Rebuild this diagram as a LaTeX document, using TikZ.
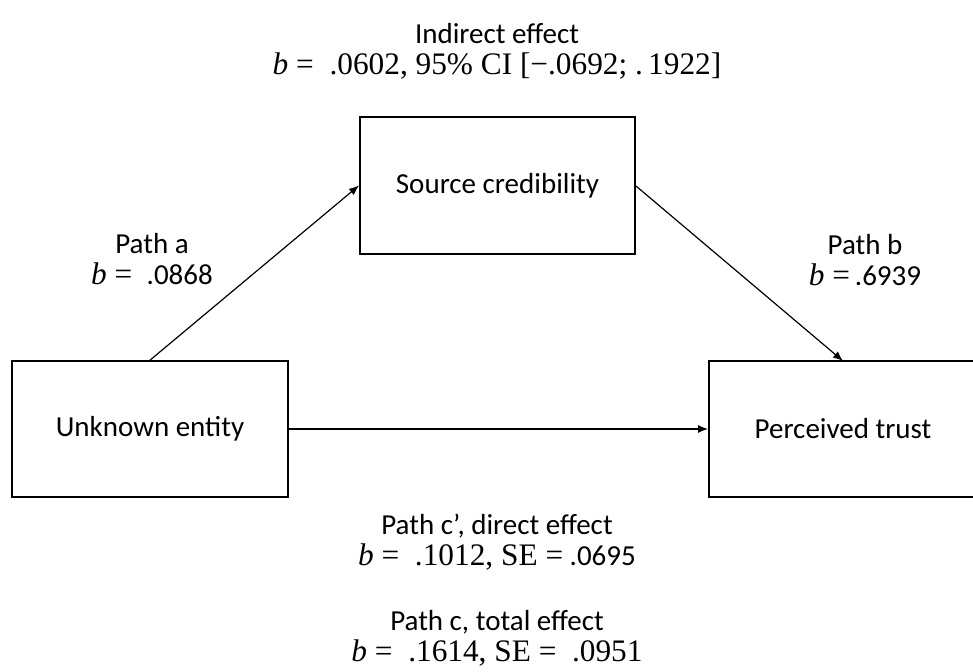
\documentclass[tikz,border=0pt]{standalone}
\usepackage{fontspec}
\setmainfont{Carlito}
\newfontfamily\serf[Scale=1.08]{Liberation Serif}
\usetikzlibrary{arrows.meta}
\newcommand{\bi}{{\serf\itshape b}}
\begin{document}
\begin{tikzpicture}[x=1pt,y=-1pt,
  box/.style={draw,line width=2pt,minimum width=#1,inner sep=0pt,font=\fontsize{29}{34}\selectfont},
  conn/.style={line width=1.2pt,-{Latex[length=10pt,width=8pt]}},
  lbl/.style={align=center,inner sep=0pt,font=\fontsize{29}{31}\selectfont}]
\useasboundingbox (0,0) rectangle (973,671);
\fill[white] (0,0) rectangle (973,671);
\node[box=275pt,minimum height=137pt] (sc) at (497.5,185.5) {Source credibility};
\node[box=276pt,minimum height=136pt] (ue) at (150,429) {Unknown entity};
\node[box=268pt,minimum height=136pt] (pt) at (843,429) {Perceived trust};
\coordinate (as) at (149,361);
\coordinate (bs) at (636,186);
\coordinate (be) at (843,361);
\draw[conn] (as) -- (sc.west);
\draw[conn] (bs) -- (be);
\draw[conn] (ue.east) -- (pt.west);
\node[lbl] (ind) at (497,51) {Indirect effect\\{\serf\bi\ = \ .0602, 95\% CI [\textminus.0692; .\,1922]}};
\node[lbl] (pa) at (152,259) {Path a\\{\serf\bi\ = }\ .0868};
\node[lbl] (pb) at (865,260) {Path b\\{\serf\bi\ =}\,.6939};
\node[lbl] (pc1) at (497,542) {Path c', direct effect\\{\serf\bi\ = \ .1012, SE =} .0695};
\node[lbl] (pc) at (497,638) {Path c, total effect\\{\serf\bi\ = \ .1614, SE = \ .0951}};
\end{tikzpicture}
\end{document}
